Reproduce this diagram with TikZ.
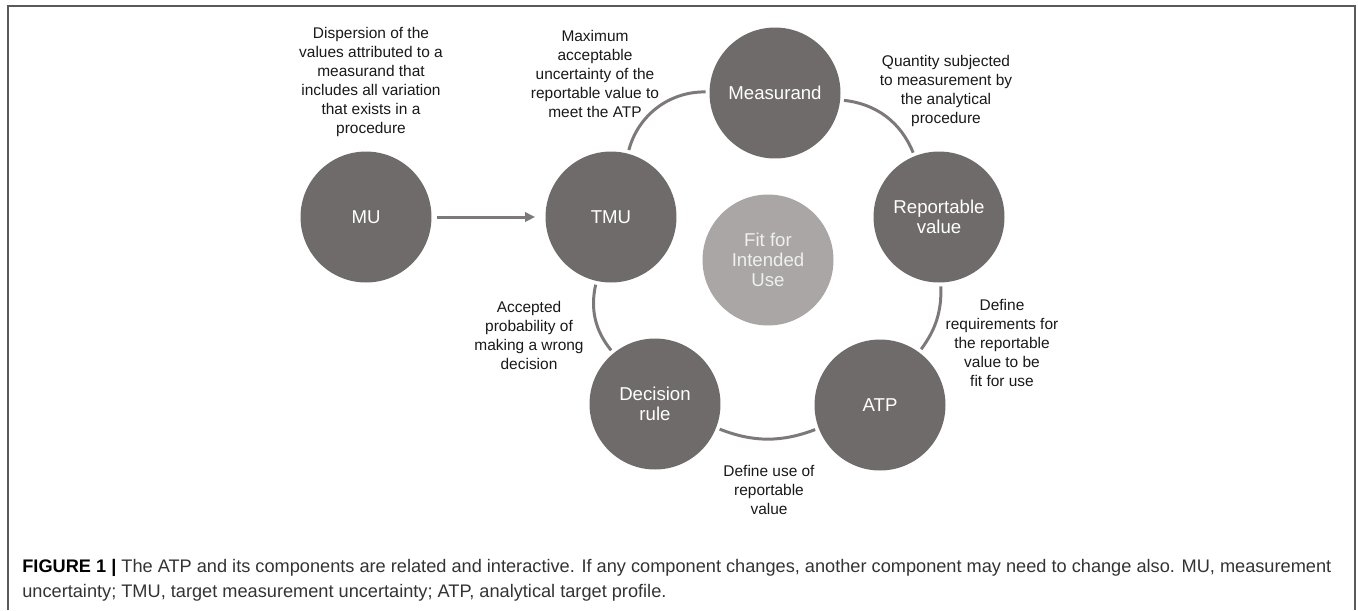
\documentclass[tikz,border=0pt]{standalone}
\usepackage{fontspec}
\setmainfont{Liberation Sans}
\usetikzlibrary{arrows.meta}
\definecolor{circgray}{HTML}{6F6B6A}
\definecolor{fitgray}{HTML}{A9A6A5}
\definecolor{linegray}{HTML}{7D7979}
\definecolor{framegray}{HTML}{5A5A5A}
\definecolor{captext}{HTML}{333333}

\begin{document}
\begin{tikzpicture}[x=0.02cm, y=-0.02cm,
    comp/.style={circle, fill=circgray, minimum size=2.62cm, inner sep=0pt,
      text=white, align=center, font=\fontsize{10.6}{11.4}\selectfont},
    fitcirc/.style={comp, fill=fitgray, text=white!94!black},
    desc/.style={align=center, text=black!90, inner sep=0pt,
      font=\fontsize{8.8}{10.8}\selectfont},
    ringarc/.style={draw=linegray, line width=1.7pt, shorten <=2pt, shorten >=2pt},
    flowarrow/.style={draw=linegray, line width=1.7pt,
      -{Triangle[length=5.7pt,width=5.2pt]}}]
    \useasboundingbox (0,0) rectangle (1358,610);

    % Rahmen
    \draw[framegray, line width=0.8pt] (8,610) -- (8,6) -- (1355,6) -- (1355,610);

    % Kreise
    \node[comp] (mu) at (366,217) {MU};
    \node[comp] (tmu) at (611,217) {TMU};
    \node[comp] (meas) at (775,93) {Measurand};
    \node[comp] (rep) at (939,217) {Reportable\\value};
    \node[comp] (atp) at (880,405) {ATP};
    \node[comp] (dec) at (655,404) {Decision\\rule};
    \node[fitcirc] (fit) at (768,260) {Fit for\\Intended\\Use};

    % Ring
    \draw[ringarc] (tmu) to[bend left=38] (meas);
    \draw[ringarc] (meas) to[bend left=31] (rep);
    \draw[ringarc] (rep) to[bend left=19] (atp);
    \draw[ringarc] (atp) to[bend left=21] (dec);
    \draw[ringarc] (dec) to[bend left=26] (tmu);

    % Pfeil
    \draw[flowarrow, shorten <=3pt, shorten >=5.7pt] (mu) -- (tmu);

    % Beschreibungen
    \node[desc] (mudesc) at (371,82) {Dispersion of the\\values attributed to a\\measurand that\\includes all variation\\that exists in a\\procedure};
    \node[desc] (tmudesc) at (595,74) {Maximum\\acceptable\\uncertainty of the\\reportable value to\\meet the ATP};
    \node[desc] (measdesc) at (946,91) {Quantity subjected\\to measurement by\\the analytical\\procedure};
    \node[desc] (repdesc) at (1002,343) {Define\\requirements for\\the reportable\\value to be\\fit for use};
    \node[desc] (atpdesc) at (769,490) {Define use of\\reportable\\value};
    \node[desc] (decdesc) at (529,335) {Accepted\\probability of\\making a wrong\\decision};

    % Legende
    \node[anchor=north west, align=left, inner sep=0pt, text=captext,
      font=\fontsize{10.35}{14.2}\selectfont] (caption) at (22,559)
      {\textbf{\color{black}FIGURE 1 |} The ATP and its components are related and interactive. If any component changes, another component may need to change also. MU, measurement\\uncertainty; TMU, target measurement uncertainty; ATP, analytical target profile.};
\end{tikzpicture}
\end{document}
